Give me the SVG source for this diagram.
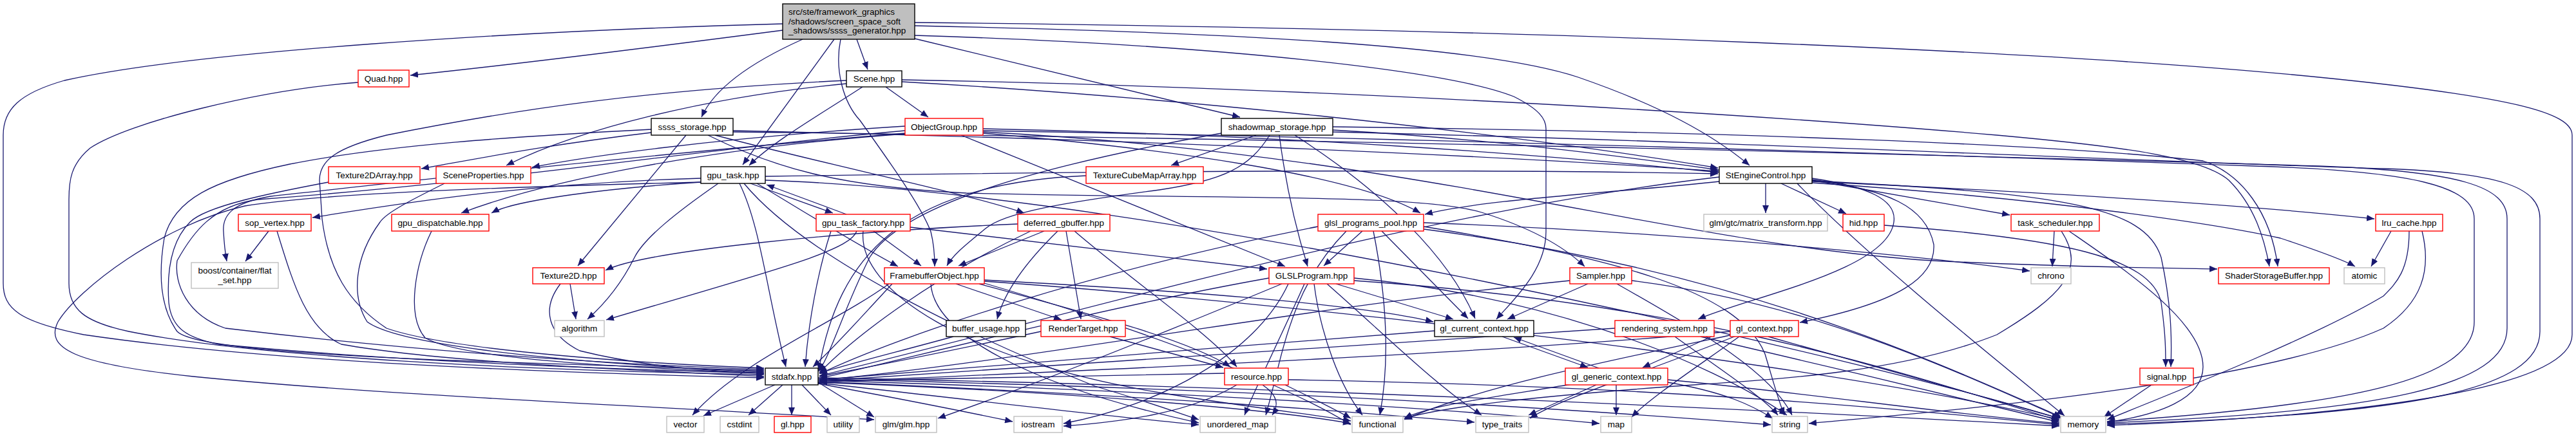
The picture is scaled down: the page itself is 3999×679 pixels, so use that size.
<svg xmlns="http://www.w3.org/2000/svg" width="3999" height="679" viewBox="0 0 3999 679">
<defs>
<style>
.node rect{stroke-width:1.4}
.blk rect{fill:#fff;stroke:#000}
.red rect{fill:#fff;stroke:#ff0000}
.gry rect{fill:#fff;stroke:#bfbfbf}
.root rect{fill:#bfbfbf;stroke:#000}
text{font-family:"Liberation Sans",Arial,Helvetica,sans-serif;font-size:13.5px;fill:#000;text-anchor:middle}
.root text{text-anchor:start}
.edges path{fill:none;stroke:#191970;stroke-width:1.3;marker-end:url(#ah)}
</style>
<marker id="ah" markerUnits="userSpaceOnUse" markerWidth="13" markerHeight="10" refX="12" refY="5" orient="auto"><path d="M0,0 L12,5 L0,10 z" fill="#191970"/></marker>
</defs>
<rect width="3999" height="679" fill="#fff"/>
<g class="edges">
<path d="M1215,47 C1000,75 800,100 637,117"/>
<path d="M1215,37 C800,48 300,80 100,125 C30,145 5,170 5,210 L5,440 C5,480 30,500 130,520 C400,560 800,578 1186,587"/>
<path d="M1330,61 L1347,108"/>
<path d="M1246,61 C1170,95 1110,135 1089,182"/>
<path d="M1295,61 L1153,256"/>
<path d="M1305,61 C1295,110 1310,160 1335,187 C1380,250 1430,320 1445,360 C1450,380 1451,395 1451,414"/>
<path d="M1420,60 L1925,182"/>
<path d="M1420,35 C2400,45 3200,80 3600,120 C3900,150 3993,175 3993,210 L3993,520 C3993,600 3700,645 3271,661"/>
<path d="M1420,40 C1900,50 2300,70 2450,120 C2580,165 2660,210 2716,257"/>
<path d="M1420,55 C1900,70 2250,110 2350,150 C2390,170 2400,185 2400,200 L2400,360 C2400,420 2350,465 2323,496"/>
<path d="M556,128 C400,140 200,190 140,230 C110,255 107,280 107,310 L107,440 C107,480 130,500 200,515 C400,555 800,575 1186,582"/>
<path d="M1375,135 L1441,182"/>
<path d="M1314,130 C1100,150 900,200 786,257"/>
<path d="M1339,135 C1270,180 1200,220 1163,257"/>
<path d="M1314,125 C1000,140 800,170 600,210 C520,230 496,250 496,280 L500,340 C510,420 540,470 600,510 C700,545 1000,565 1186,572"/>
<path d="M1400,127 C1800,150 2300,200 2667,261"/>
<path d="M1400,124 C2000,135 2700,175 3100,210 C3300,228 3420,245 3460,280 C3500,320 3515,370 3523,414"/>
<path d="M1011,206 C850,225 750,245 654,262"/>
<path d="M1011,201 C800,212 600,225 450,255 C330,280 270,310 255,370 C245,430 250,480 275,515 C300,540 500,552 700,560 C900,568 1100,573 1186,576"/>
<path d="M1065,210 L897,413"/>
<path d="M1099,210 C1200,260 1300,290 1500,300 C1900,310 2200,300 2300,330 C2380,355 2430,385 2460,414"/>
<path d="M1138,203 C1700,215 2300,240 2668,266"/>
<path d="M1110,210 C1300,260 1500,300 1590,331"/>
<path d="M1138,205 C2000,215 3000,240 3600,258 C3820,266 3892,290 3892,340 L3892,510 C3892,600 3700,640 3271,657"/>
<path d="M1405,196 C1100,215 900,245 826,260"/>
<path d="M1405,208 C1100,230 850,280 716,331"/>
<path d="M1492,210 L1995,414"/>
<path d="M1405,207 C1000,240 650,280 420,305 C360,315 345,335 347,360 C348,380 350,395 352,406"/>
<path d="M1405,203 C1100,230 800,280 400,310 C330,320 300,360 275,405 C270,440 290,490 350,510 C600,540 900,565 1186,574"/>
<path d="M1526,200 C2000,210 2400,240 2668,268"/>
<path d="M1526,205 C2200,240 2600,380 3000,405 C3200,415 3350,416 3442,418"/>
<path d="M1526,203 C2200,215 3000,240 3500,258 C3750,266 3841,290 3841,340 L3841,500 C3841,590 3650,630 3271,655"/>
<path d="M1526,207 C1800,230 2100,270 2205,331"/>
<path d="M1950,210 L1818,257"/>
<path d="M1971,210 C1940,260 1900,280 1800,295 C1650,315 1560,330 1530,355 C1500,380 1480,395 1470,413"/>
<path d="M1986,210 C1995,280 2010,350 2030,414"/>
<path d="M2069,202 C2300,215 2500,240 2668,264"/>
<path d="M2069,197 C2700,205 3200,225 3420,250 C3480,270 3525,330 3536,414"/>
<path d="M1896,207 C1600,260 1400,320 1350,400 C1310,480 1290,550 1271,577"/>
<path d="M2010,210 C2150,300 2250,400 2290,495"/>
<path d="M2069,205 C2700,220 3300,250 3700,262 C3880,268 3943,290 3943,340 L3943,515 C3943,605 3750,645 3271,659"/>
<path d="M510,283 C420,300 320,320 295,345 C270,370 258,410 262,470 C266,510 290,525 340,535 C600,560 900,572 1186,580"/>
<path d="M690,285 C640,310 600,330 590,345 C550,400 545,460 570,500 C610,530 800,560 1186,578"/>
<path d="M1088,277 C800,285 600,320 485,338"/>
<path d="M1088,283 C950,292 800,310 763,331"/>
<path d="M1165,285 L1293,331"/>
<path d="M1148,285 C1180,350 1190,450 1220,570"/>
<path d="M1115,285 C1050,330 1000,370 985,400 C960,450 930,480 912,496"/>
<path d="M1088,283 C800,290 500,300 380,320 C250,350 120,450 90,500 C70,540 110,565 300,585 C600,615 1000,630 1357,652"/>
<path d="M1175,285 C1250,330 1330,380 1394,414"/>
<path d="M1188,274 C1800,265 2300,262 2667,270"/>
<path d="M1155,285 C1250,400 1500,520 1700,600 C1800,630 1830,642 1861,652"/>
<path d="M1188,280 C1800,300 2900,560 3197,650"/>
<path d="M1686,273 C1400,285 1300,400 1271,576"/>
<path d="M2741,285 L2741,331"/>
<path d="M2765,285 L2866,332"/>
<path d="M2813,280 L3120,334"/>
<path d="M2669,282 C2500,300 2300,310 2212,333"/>
<path d="M2813,282 C3200,300 3500,320 3686,340"/>
<path d="M2813,284 C3200,310 3450,350 3540,370 C3600,390 3640,405 3656,414"/>
<path d="M2813,277 C2900,290 2945,310 2940,345 C2930,420 2720,460 2636,496"/>
<path d="M2813,279 C2930,295 2990,320 3002,380 C3005,430 2950,470 2794,501"/>
<path d="M2813,281 C3200,300 3330,320 3355,400 C3370,470 3372,520 3370,570"/>
<path d="M2669,275 C2200,330 1700,480 1272,584"/>
<path d="M2790,285 C2900,400 3100,560 3205,646"/>
<path d="M2925,350 C3200,370 3340,400 3355,470 C3362,520 3362,545 3362,570"/>
<path d="M417,359 L381,406"/>
<path d="M430,359 C455,440 475,510 530,535 C700,565 1000,575 1186,585"/>
<path d="M670,359 C645,410 630,490 660,525 C720,560 1000,572 1186,580"/>
<path d="M1314,333 L1190,287"/>
<path d="M1356,359 L1430,413"/>
<path d="M1413,353 L1967,418"/>
<path d="M1330,359 C1320,390 1200,420 941,497"/>
<path d="M1290,359 C1270,420 1255,500 1250,570"/>
<path d="M1340,359 C1330,450 1500,560 1800,610 C1950,635 2050,645 2097,654"/>
<path d="M1621,359 L1488,413"/>
<path d="M1580,348 C1300,360 1000,390 940,420"/>
<path d="M1642,359 C1600,400 1560,450 1548,496"/>
<path d="M1655,359 L1678,496"/>
<path d="M1668,359 C1750,430 1880,520 1920,570"/>
<path d="M1600,359 C1450,430 1330,520 1272,579"/>
<path d="M2115,359 L2055,413"/>
<path d="M2145,359 L2279,495"/>
<path d="M2132,359 C2150,450 2160,550 2142,645"/>
<path d="M2210,352 C2500,400 2700,450 2740,550 C2755,600 2760,620 2770,645"/>
<path d="M2210,346 C2600,360 3000,400 3151,421"/>
<path d="M2046,352 C1700,420 1400,520 1272,581"/>
<path d="M2210,356 C2700,420 3000,560 3200,648"/>
<path d="M2090,359 C2000,450 1990,560 1965,645"/>
<path d="M2074,441 L2256,496"/>
<path d="M1970,432 C1700,480 1400,560 1272,588"/>
<path d="M2040,441 C2050,520 2080,600 2115,645"/>
<path d="M2060,441 C2150,520 2230,600 2300,645"/>
<path d="M2025,441 C1990,520 1950,600 1932,645"/>
<path d="M2102,432 C2400,460 2650,560 2774,645"/>
<path d="M2102,436 C2600,470 2900,560 3197,654"/>
<path d="M1990,441 C1800,520 1600,600 1456,650"/>
<path d="M2000,441 C1950,550 1800,630 1651,658"/>
<path d="M1380,441 C1300,500 1150,560 1075,645"/>
<path d="M2465,441 L2340,496"/>
<path d="M2437,436 C2000,480 1600,560 1272,591"/>
<path d="M2533,436 C2800,470 3000,560 3202,650"/>
<path d="M2510,441 C2650,520 2750,580 2782,645"/>
<path d="M3712,359 L3681,414"/>
<path d="M3740,359 C3740,420 3720,440 3700,460 C3600,520 3400,600 3271,652"/>
<path d="M3760,359 C3775,420 3760,470 3700,510 C3500,600 3000,640 2808,658"/>
<path d="M3189,359 L3186,414"/>
<path d="M3212,359 C3300,420 3420,500 3420,570 C3420,620 3350,645 3271,656"/>
<path d="M3200,359 C3240,420 3200,460 3100,520 C2950,580 2750,590 2600,600 C2400,615 2250,630 2180,650"/>
<path d="M885,441 L894,496"/>
<path d="M870,441 C840,480 850,520 900,545 C1000,570 1100,576 1186,580"/>
<path d="M1480,523 C1400,545 1300,570 1272,580"/>
<path d="M1723,523 L1899,571"/>
<path d="M1616,515 C1500,540 1350,570 1272,585"/>
<path d="M1484,441 L1648,497"/>
<path d="M1520,441 C1700,490 1850,530 1910,570"/>
<path d="M1528,435 C1800,450 2100,470 2225,500"/>
<path d="M1385,441 C1330,500 1295,540 1262,570"/>
<path d="M1445,441 C1450,520 1600,600 1861,657"/>
<path d="M1528,440 C1800,520 2000,600 2097,660"/>
<path d="M1528,437 C2000,470 2800,560 3197,652"/>
<path d="M2332,523 L2465,571"/>
<path d="M2227,514 C1900,540 1500,570 1272,590"/>
<path d="M2657,523 L2550,571"/>
<path d="M2507,510 C2000,540 1600,570 1272,592"/>
<path d="M2600,523 C2680,580 2740,620 2760,645"/>
<path d="M2640,523 C2800,560 3050,620 3197,656"/>
<path d="M2686,515 C2300,550 1700,575 1272,594"/>
<path d="M2745,523 L3197,650"/>
<path d="M2700,523 C2620,580 2560,620 2533,648"/>
<path d="M2690,520 C2500,560 2300,600 2180,652"/>
<path d="M2695,522 C2550,580 2420,620 2375,650"/>
<path d="M2482,572 L2350,524"/>
<path d="M2509,598 L2509,645"/>
<path d="M2478,598 L2373,645"/>
<path d="M2440,597 C2300,620 2220,630 2180,650"/>
<path d="M2589,590 C2800,610 3000,640 3197,658"/>
<path d="M2589,594 C2680,610 2720,630 2752,650"/>
<path d="M1901,580 C1700,585 1400,588 1272,592"/>
<path d="M1960,598 C1985,615 1985,630 1975,645"/>
<path d="M1995,598 C2040,620 2080,640 2097,650"/>
<path d="M2000,590 C2600,600 3000,640 3197,660"/>
<path d="M1920,598 C1850,640 1750,655 1651,662"/>
<path d="M3340,598 L3266,648"/>
<path d="M1203,598 L1092,646"/>
<path d="M1215,598 L1162,645"/>
<path d="M1229,598 L1229,645"/>
<path d="M1245,598 L1290,645"/>
<path d="M1270,594 L1357,648"/>
<path d="M1270,596 C1400,620 1500,640 1572,655"/>
<path d="M1270,595 C1500,620 1700,645 1861,660"/>
<path d="M1270,594 C1700,610 2000,640 2097,658"/>
<path d="M1270,593 C1800,615 2100,640 2289,656"/>
<path d="M1270,591 C1900,610 2300,640 2483,658"/>
<path d="M1270,589 C2000,605 2500,640 2749,660"/>
<path d="M1270,587 C2000,600 2800,640 3197,662"/>
</g>
<g id="node-root" class="node root"><rect x="1215" y="6" width="205" height="55"/><text x="1224" y="23">src/ste/framework_graphics</text><text x="1224" y="38">/shadows/screen_space_soft</text><text x="1224" y="52">_shadows/ssss_generator.hpp</text></g>
<g id="node-quad" class="node red"><rect x="556" y="109" width="79" height="26"/><text x="595.5" y="127">Quad.hpp</text></g>
<g id="node-scene" class="node blk"><rect x="1314" y="110" width="86" height="25"/><text x="1357" y="127">Scene.hpp</text></g>
<g id="node-ssss_storage" class="node blk"><rect x="1011" y="184" width="127" height="26"/><text x="1074.5" y="202">ssss_storage.hpp</text></g>
<g id="node-objectgroup" class="node red"><rect x="1405" y="184" width="121" height="26"/><text x="1465.5" y="202">ObjectGroup.hpp</text></g>
<g id="node-shadowmap_storage" class="node blk"><rect x="1896" y="184" width="173" height="26"/><text x="1982.5" y="202">shadowmap_storage.hpp</text></g>
<g id="node-texture2darray" class="node red"><rect x="510" y="259" width="142" height="26"/><text x="581" y="277">Texture2DArray.hpp</text></g>
<g id="node-sceneproperties" class="node red"><rect x="677" y="259" width="147" height="26"/><text x="750.5" y="277">SceneProperties.hpp</text></g>
<g id="node-gpu_task" class="node blk"><rect x="1088" y="259" width="100" height="26"/><text x="1138" y="277">gpu_task.hpp</text></g>
<g id="node-texturecubemaparray" class="node red"><rect x="1686" y="259" width="182" height="26"/><text x="1777" y="277">TextureCubeMapArray.hpp</text></g>
<g id="node-stenginecontrol" class="node blk"><rect x="2669" y="259" width="144" height="26"/><text x="2741" y="277">StEngineControl.hpp</text></g>
<g id="node-sop_vertex" class="node red"><rect x="370" y="333" width="113" height="26"/><text x="426.5" y="351">sop_vertex.hpp</text></g>
<g id="node-gpu_dispatchable" class="node red"><rect x="608" y="333" width="151" height="26"/><text x="683.5" y="351">gpu_dispatchable.hpp</text></g>
<g id="node-gpu_task_factory" class="node red"><rect x="1267" y="333" width="146" height="26"/><text x="1340" y="351">gpu_task_factory.hpp</text></g>
<g id="node-deferred_gbuffer" class="node red"><rect x="1580" y="333" width="143" height="26"/><text x="1651.5" y="351">deferred_gbuffer.hpp</text></g>
<g id="node-glsl_programs_pool" class="node red"><rect x="2046" y="333" width="164" height="26"/><text x="2128" y="351">glsl_programs_pool.hpp</text></g>
<g id="node-matrix_transform" class="node gry"><rect x="2645" y="333" width="192" height="26"/><text x="2741" y="351">glm/gtc/matrix_transform.hpp</text></g>
<g id="node-hid" class="node red"><rect x="2861" y="333" width="64" height="26"/><text x="2893" y="351">hid.hpp</text></g>
<g id="node-task_scheduler" class="node red"><rect x="3122" y="333" width="137" height="26"/><text x="3190.5" y="351">task_scheduler.hpp</text></g>
<g id="node-lru_cache" class="node red"><rect x="3688" y="333" width="104" height="26"/><text x="3740" y="351">lru_cache.hpp</text></g>
<g id="node-flat_set" class="node gry"><rect x="297" y="408" width="135" height="40"/><text x="364.5" y="425">boost/container/flat</text><text x="364.5" y="440">_set.hpp</text></g>
<g id="node-texture2d" class="node red"><rect x="827" y="416" width="111" height="25"/><text x="882.5" y="433">Texture2D.hpp</text></g>
<g id="node-framebufferobject" class="node red"><rect x="1373" y="416" width="155" height="25"/><text x="1450.5" y="433">FramebufferObject.hpp</text></g>
<g id="node-glslprogram" class="node red"><rect x="1970" y="416" width="132" height="25"/><text x="2036" y="433">GLSLProgram.hpp</text></g>
<g id="node-sampler" class="node red"><rect x="2437" y="416" width="96" height="25"/><text x="2485" y="433">Sampler.hpp</text></g>
<g id="node-chrono" class="node gry"><rect x="3153" y="416" width="62" height="25"/><text x="3184" y="433">chrono</text></g>
<g id="node-shaderstoragebuffer" class="node red"><rect x="3444" y="416" width="172" height="25"/><text x="3530" y="433">ShaderStorageBuffer.hpp</text></g>
<g id="node-atomic" class="node gry"><rect x="3639" y="416" width="63" height="25"/><text x="3670.5" y="433">atomic</text></g>
<g id="node-algorithm" class="node gry"><rect x="861" y="498" width="77" height="25"/><text x="899.5" y="515">algorithm</text></g>
<g id="node-buffer_usage" class="node blk"><rect x="1469" y="498" width="123" height="25"/><text x="1530.5" y="515">buffer_usage.hpp</text></g>
<g id="node-rendertarget" class="node red"><rect x="1616" y="498" width="131" height="25"/><text x="1681.5" y="515">RenderTarget.hpp</text></g>
<g id="node-gl_current_context" class="node blk"><rect x="2227" y="498" width="154" height="25"/><text x="2304" y="515">gl_current_context.hpp</text></g>
<g id="node-rendering_system" class="node red"><rect x="2507" y="498" width="154" height="25"/><text x="2584" y="515">rendering_system.hpp</text></g>
<g id="node-gl_context" class="node red"><rect x="2686" y="498" width="106" height="25"/><text x="2739" y="515">gl_context.hpp</text></g>
<g id="node-stdafx" class="node blk"><rect x="1188" y="572" width="82" height="26"/><text x="1229" y="590">stdafx.hpp</text></g>
<g id="node-resource" class="node red"><rect x="1901" y="572" width="99" height="26"/><text x="1950.5" y="590">resource.hpp</text></g>
<g id="node-gl_generic_context" class="node red"><rect x="2430" y="572" width="159" height="26"/><text x="2509.5" y="590">gl_generic_context.hpp</text></g>
<g id="node-signal" class="node red"><rect x="3322" y="572" width="83" height="26"/><text x="3363.5" y="590">signal.hpp</text></g>
<g id="node-vector" class="node gry"><rect x="1035" y="647" width="58" height="25"/><text x="1064" y="664">vector</text></g>
<g id="node-cstdint" class="node gry"><rect x="1118" y="647" width="60" height="25"/><text x="1148" y="664">cstdint</text></g>
<g id="node-gl" class="node red"><rect x="1202" y="647" width="57" height="25"/><text x="1230.5" y="664">gl.hpp</text></g>
<g id="node-utility" class="node gry"><rect x="1284" y="647" width="50" height="25"/><text x="1309" y="664">utility</text></g>
<g id="node-glm" class="node gry"><rect x="1359" y="647" width="95" height="25"/><text x="1406.5" y="664">glm/glm.hpp</text></g>
<g id="node-iostream" class="node gry"><rect x="1574" y="647" width="75" height="25"/><text x="1611.5" y="664">iostream</text></g>
<g id="node-unordered_map" class="node gry"><rect x="1863" y="647" width="117" height="25"/><text x="1921.5" y="664">unordered_map</text></g>
<g id="node-functional" class="node gry"><rect x="2099" y="647" width="79" height="25"/><text x="2138.5" y="664">functional</text></g>
<g id="node-type_traits" class="node gry"><rect x="2291" y="647" width="82" height="25"/><text x="2332" y="664">type_traits</text></g>
<g id="node-map" class="node gry"><rect x="2485" y="647" width="48" height="25"/><text x="2509" y="664">map</text></g>
<g id="node-string" class="node gry"><rect x="2751" y="647" width="55" height="25"/><text x="2778.5" y="664">string</text></g>
<g id="node-memory" class="node gry"><rect x="3199" y="647" width="70" height="25"/><text x="3234" y="664">memory</text></g>
</svg>
